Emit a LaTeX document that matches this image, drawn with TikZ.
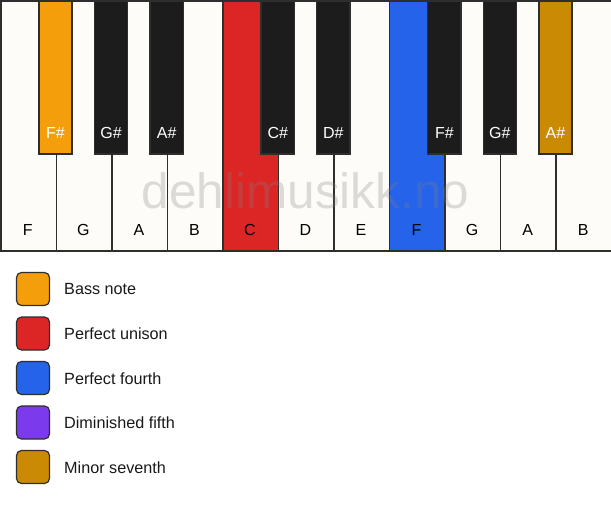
\documentclass[tikz,border=0pt]{standalone}
\usepackage{fontspec}
\setmainfont{Liberation Sans}
\definecolor{keyline}{HTML}{2E2E2E}
\definecolor{whitekey}{HTML}{FDFCF8}
\definecolor{blackkey}{HTML}{1C1C1C}
\definecolor{cbass}{HTML}{F59E0B}
\definecolor{cunison}{HTML}{DC2626}
\definecolor{cfourth}{HTML}{2563EB}
\definecolor{cdimfifth}{HTML}{7C3AED}
\definecolor{cseventh}{HTML}{CA8A04}
\begin{document}
\begin{tikzpicture}[x=1pt,y=-1pt,
  wkey/.style={draw=keyline, line width=1.5pt, minimum width=55.545pt, minimum height=250pt, anchor=north west, inner sep=0pt, outer sep=0pt, fill=whitekey},
  bkey/.style={draw=keyline, line width=1.5pt, minimum width=33.3pt, minimum height=153pt, anchor=north, inner sep=0pt, outer sep=0pt, fill=blackkey},
  wlabel/.style={font=\fontsize{16}{16}\selectfont, text=black, inner sep=0pt},
  blabel/.style={font=\fontsize{16}{16}\selectfont, text=white, inner sep=0pt},
  swatch/.style={draw=keyline, line width=1.2pt, rounded corners=5pt, minimum width=33pt, minimum height=33pt, inner sep=0pt},
  legtext/.style={font=\fontsize{16.2}{16.2}\selectfont, text=black!90, anchor=west, inner sep=0pt},
  watermark/.style={font=\fontsize{49.5}{49.5}\selectfont, text=gray, text opacity=0.27, inner sep=0pt}
]
\useasboundingbox[fill=white] (0,0) rectangle (611,506);
% white keys
\foreach \i/\n/\c in {0/F/whitekey,1/G/whitekey,2/A/whitekey,3/B/whitekey,4/C/cunison,5/D/whitekey,6/E/whitekey,7/F/cfourth,8/G/whitekey,9/A/whitekey,10/B/whitekey}{
  \node[wkey, fill=\c] (w\i) at (\i*55.545+0.75,0.75) {};
  \node[wlabel] (wl\i) at (\i*55.545+27.77,230) {\n};
}
% watermark
\node[watermark] (wm) at (305.5,191) {dehlimusikk.no};
% black keys
\foreach \i/\n/\c in {1/F\#/cbass,2/G\#/blackkey,3/A\#/blackkey,5/C\#/blackkey,6/D\#/blackkey,8/F\#/blackkey,9/G\#/blackkey,10/A\#/cseventh}{
  \node[bkey, fill=\c] (b\i) at (\i*55.545,0.75) {};
  \node[blabel] (bl\i) at (\i*55.545,133) {\n};
}
% legend
\foreach \k/\c/\t in {0/cbass/Bass note,1/cunison/Perfect unison,2/cfourth/Perfect fourth,3/cdimfifth/Diminished fifth,4/cseventh/Minor seventh}{
  \node[swatch, fill=\c] (s\k) at (33,289+\k*44.5) {};
  \node[legtext] (t\k) at (64,289.5+\k*44.5) {\t};
}
\end{tikzpicture}
\end{document}
